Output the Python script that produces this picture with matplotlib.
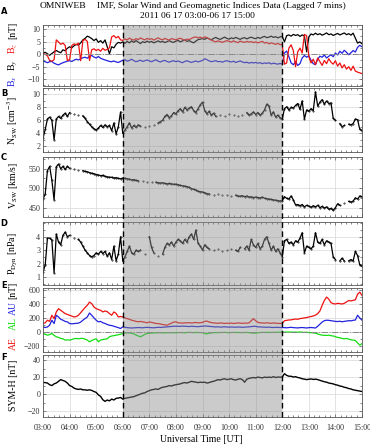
import matplotlib
matplotlib.use("Agg")
import matplotlib.pyplot as plt
import matplotlib.dates as mdates
import matplotlib.transforms as mtransforms
from matplotlib.patches import Rectangle
from matplotlib.lines import Line2D
from matplotlib.ticker import AutoMinorLocator
import numpy as np
import pandas as pd

nan = np.nan
time = pd.date_range("2011-06-17 03:00", "2011-06-17 15:00", freq="5min")

# IMF components [nT]
bx = [-2.8, -3.0, -3.4, -3.0, -2.9, -3.6, -4.0, -4.3, -3.8, -3.4, -3.1, -2.8,
      -2.6, -2.9, -2.4, -2.0, -2.3, -1.8, -1.4, -1.2, -1.6, -0.8, -0.5, -1.1,
      -1.5, -0.9, -1.6, -2.0, -2.3, -2.6, -2.9, -3.0, -2.7, -3.1, -3.3, -2.9,
      -2.4, -2.2, -2.8, -2.5, -2.0, -2.6, -3.0, -2.7, -2.4, -2.9, -2.6, -2.3,
      -2.7, -3.0, -2.6, -2.2, -2.8, -3.1, -2.7, -2.5, -2.9, -3.2, -2.8, -2.6,
      -3.0, -2.7, -3.1, -3.4, -2.9, -2.6, -3.0, -3.3, -3.0, -2.7, -3.1, -2.8,
      -2.5, -1.8, -2.2, -2.7, -3.0, -2.8, -2.6, -3.0, -2.9, -3.2, -2.8, -2.6,
      -2.9, -3.1, -2.8, -3.3, -3.0, -2.7, -3.1, -3.4, -3.2, -3.6, -3.3, -3.5,
      -3.3, -3.6, -3.4, -3.8, -3.5, -3.7, -3.4, -3.9, -3.6, -3.8, -4.0, -3.7,
      -4.0, 0.5, 1.3, -1.0, -3.5, -4.2, -3.0, -4.5, -3.8, -1.5, -0.5, -1.2,
      -0.6, -2.5, -3.8, -4.2, -2.0, -0.8, -1.2, -0.3, -1.5, -0.8, -0.2, -1.0,
      0.5, -0.3, 1.2, 0.4, 1.6, 0.8, -0.2, 0.6, 1.5, 0.9, 2.8, 3.6,
      3.0]
by = [0.5, 0.8, 0.2, -0.4, 0.3, 1.0, 1.5, 1.0, 0.6, 1.8, 1.4, 2.4,
      3.0, 2.6, 3.4, 4.0, 3.7, 4.6, 5.8, 6.4, 7.3, 6.9, 6.3, 5.5,
      6.2, 4.8, 5.5, 4.5, 5.8, 3.0, 0.2, 3.0, 2.6, 4.0, 4.8, 4.5,
      5.0, 4.4, 5.2, 4.6, 5.4, 4.8, 5.5, 4.9, 4.3, 5.1, 4.7, 5.3,
      4.8, 5.2, 4.6, 5.0, 5.4, 4.9, 5.2, 4.7, 5.1, 5.5, 5.0, 4.8,
      5.3, 5.6, 5.0, 5.4, 5.8, 5.2, 5.5, 5.0, 4.6, 5.3, 5.9, 6.1,
      6.3, 6.0, 6.6, 6.2, 5.8, 6.4, 6.8, 6.3, 6.0, 6.5, 6.9, 6.4,
      6.1, 6.6, 6.3, 6.8, 6.4, 6.0, 6.5, 6.7, 6.2, 6.6, 6.9, 6.5,
      6.3, 6.8, 6.4, 6.9, 7.2, 6.7, 6.9, 7.3, 6.8, 7.1, 6.6, 7.0,
      7.2, 5.0, 7.5, 7.8, 7.3, 8.0, 7.6, 7.9, 7.2, 7.8, 7.4, 1.0,
      7.0, 8.2, 7.8, 8.5, 7.9, 8.3, 7.7, 8.1, 8.6, 7.9, 8.2, 7.6,
      8.0, 8.4, 7.8, 8.2, 8.6, 7.9, 8.3, 7.7, 8.5, 6.5, 4.5, 5.0,
      4.2]
bz = [0.3, 0.0, -0.6, -2.5, -2.8, -2.2, 5.8, 5.0, 4.0, 4.5, 3.6, -2.5,
      -2.2, 3.5, 4.2, 3.8, 4.5, -2.6, 5.5, 6.0, 5.2, -2.5, 1.8, 2.2,
      1.5, 2.0, 1.2, 2.4, 1.6, 2.0, 2.6, 7.0, 7.5, 6.6, 7.2, 5.8,
      5.6, 6.2, 5.8, 6.5, 6.0, 5.7, 6.3, 5.9, 6.6, 6.1, 5.8, 6.4,
      6.0, 6.3, 5.7, 6.2, 6.6, 6.1, 5.8, 6.4, 6.0, 5.7, 6.3, 6.1,
      5.8, 6.2, 6.5, 6.0, 5.6, 6.1, 5.9, 6.4, 6.8, 7.0, 6.6, 6.9,
      6.5, 7.0, 6.7, 6.2, 5.7, 5.3, 5.0, 5.4, 5.1, 4.8, 5.2, 5.5,
      5.2, 4.9, 5.4, 5.0, 4.7, 5.3, 5.0, 4.8, 5.2, 4.9, 5.1, 4.7,
      5.0, 4.6, 4.9, 5.2, 4.5, 4.8, 4.2, 4.6, 4.3, 4.0, 4.4, 3.9,
      4.0, -4.0, -3.5, 2.5, 3.8, 1.5, -5.0, 1.0, 2.5, 0.5, 8.0, 7.5,
      -1.0, -3.5, -2.0, -4.2, -1.5, -3.0, -4.5, -2.5, -3.8, -1.8, -3.2, -4.0,
      -2.6, -4.8, -3.5, -5.5, -4.2, -6.0, -5.0, -6.5, -4.8, -6.8, -7.2, -7.5,
      -7.8]

# solar wind
nsw = [3.2, 4.6, 6.2, 6.5, 6.0, 3.0, 6.2, 6.6, 6.3, 6.8, 7.1, 6.6,
       7.2, nan, 7.0, nan, 6.9, nan, 6.7, 6.3, 5.8, 5.4, 5.0, 4.7,
       4.5, 4.8, 5.2, 4.9, 5.3, 5.0, 5.2, 4.4, 5.6, 3.9, 5.0, 7.3,
       4.0, 4.5, 5.0, 5.6, 4.8, 5.2, 4.9, 5.3, 5.1, nan, 5.0, nan,
       5.1, nan, 5.3, nan, 5.6, 5.8, 6.0, 6.6, 6.9, 6.4, 6.7, 7.2,
       7.0, 7.5, 7.8, 7.3, 8.0, 7.6, 7.9, 8.1, 7.5, 7.2, 7.8, 8.4,
       8.8, 7.5, 7.0, 7.4, 6.8, 7.1, 6.6, nan, 6.9, nan, 6.7, nan,
       7.0, nan, 6.8, nan, 6.6, nan, 6.9, nan, 7.2, 6.8, 7.0, 7.3,
       6.9, 7.2, 6.8, 7.1, 7.6, 8.5, 8.2, 6.8, 7.3, 6.5, 6.8, 6.4,
       6.2, 7.8, 8.1, 7.6, 8.0, 7.9, 8.3, 8.6, 7.7, 9.0, 6.2, 7.6,
       7.4, 7.8, 7.5, 10.4, 8.2, 8.8, 9.2, 8.5, 9.0, 8.6, 8.7, 6.3,
       6.0, nan, 5.5, 5.0, 5.2, nan, 5.4, 5.3, 5.5, 6.2, 6.1, 4.6,
       4.4]
vsw = [472, 485, 545, 556, 520, 470, 555, 562, 550, 556, 548, 556,
       551, nan, 549, nan, 547, nan, 545, 543, 542, 540, 538, 537,
       535, 534, 532, 533, 530, 529, 528, 528, 526, 527, 525, 524,
       526, 525, 524, 523, 521, 522, 520, 519, nan, 518, nan, 517,
       nan, 516, nan, 515, 514, 513, 514, 512, 511, 512, 511, 510,
       510, 509, 507, 506, 505, 504, 502, 499, 497, 495, 492, 491,
       490, 488, 486, 485, nan, 483, nan, 484, nan, 483, nan, 482,
       nan, 481, nan, 482, 480, 479, 481, 478, 480, 477, 478, 476,
       477, 476, 475, 477, 474, 473, 472, 471, 470, 469, 468, 467,
       468, 478, 474, 472, 480, 470, 457, 458, 455, 458, 452, 456,
       454, 451, 455, 452, 456, 450, 453, 449, 452, 446, 448, 443,
       450, 460, 456, nan, 462, nan, 466, 464, 467, 475, 472, 480,
       478]
pdyn = [1.35, 1.9, 3.9, 3.9, 3.75, 1.3, 4.2, 3.6, 3.4, 4.1, 4.35, 4.0,
        4.1, nan, 3.9, nan, 3.8, 3.6, 3.3, 3.0, 2.8, 2.6, 2.5, 2.6,
        2.8, 2.7, 2.9, 2.75, 2.9, 2.55, 2.8, 2.3, 3.3, 2.2, 2.7, 4.0,
        2.2, 2.5, 2.9, 3.3, 2.8, 2.7, 3.0, 2.9, 3.0, nan, 2.7, nan,
        4.0, 3.2, 2.8, nan, 2.6, nan, 2.7, 3.2, 3.5, 3.4, 3.6, 3.3,
        3.6, 3.8, 3.7, 3.5, 3.8, 3.6, 4.0, 4.2, 3.8, 4.5, 3.5, 3.3,
        3.0, 3.4, 3.2, 3.1, nan, 3.0, nan, 3.1, nan, 2.9, nan, 3.0,
        nan, 3.1, nan, 3.0, 2.9, 3.2, nan, 3.1, 3.3, 3.0, 3.8, 3.4,
        3.2, 3.5, 3.1, 3.3, 3.8, 4.0, 3.5, 3.0, 3.3, 2.9, 3.1, 2.8,
        2.5, 3.7, 3.8, 3.5, 3.6, 3.4, 3.7, 3.6, 3.9, 4.3, 2.8, 3.3,
        3.2, 3.1, 3.3, 4.3, 3.6, 3.5, 3.8, 3.4, 3.7, 3.6, 3.5, 2.5,
        2.3, nan, 2.2, 2.4, 2.2, nan, 2.2, 2.3, 2.2, 2.9, 2.6, 1.9,
        1.8]

# auroral electrojet indices [nT]
ae = [119, 130, 167, 150, 238, 190, 286, 333, 310, 285, 262, 250,
      238, 225, 214, 220, 238, 275, 310, 350, 381, 428, 405, 357,
      333, 320, 310, 286, 300, 290, 262, 238, 286, 265, 214, 220,
      214, 200, 190, 180, 167, 160, 150, 145, 150, 143, 135, 130,
      143, 135, 128, 120, 119, 112, 105, 100, 95, 110, 125, 140,
      143, 130, 128, 125, 130, 128, 132, 126, 130, 135, 128, 132,
      135, 150, 155, 140, 133, 128, 125, 122, 128, 125, 120, 124,
      122, 126, 120, 124, 128, 125, 122, 126, 124, 128, 160, 190,
      160, 135, 130, 128, 125, 130, 126, 122, 128, 125, 120, 122,
      119, 160, 165, 170, 172, 178, 185, 180, 190, 195, 200, 205,
      214, 220, 228, 240, 262, 300, 380, 450, 500, 470, 420, 405,
      400, 410, 405, 400, 410, 430, 450, 445, 452, 460, 540, 571,
      524]
au = [71, 62, 70, 95, 167, 119, 238, 214, 180, 167, 150, 143,
      119, 115, 118, 120, 125, 140, 167, 190, 214, 271, 238, 200,
      167, 143, 150, 130, 120, 105, 95, 90, 80, 71, 60, 48,
      71, 65, 60, 57, 55, 57, 60, 62, 60, 58, 62, 64,
      62, 60, 58, 62, 65, 63, 66, 70, 72, 75, 78, 80,
      81, 80, 78, 82, 80, 78, 76, 80, 78, 76, 74, 78,
      80, 85, 82, 78, 75, 72, 70, 72, 68, 70, 72, 69,
      67, 70, 68, 66, 70, 68, 65, 67, 70, 72, 75, 80,
      78, 72, 70, 68, 66, 65, 68, 64, 62, 65, 63, 62,
      62, 60, 58, 62, 65, 60, 58, 56, 60, 62, 58, 55,
      60, 62, 58, 55, 80, 110, 140, 160, 167, 165, 160, 155,
      150, 148, 152, 145, 150, 155, 160, 158, 165, 170, 238, 200,
      167]
al = [-24, -35, -48, -40, -24, -50, -71, -80, -95, -100, -119, -115,
      -119, -110, -100, -95, -100, -95, -95, -105, -119, -143, -125, -110,
      -100, -143, -119, -110, -105, -100, -71, -60, -55, -48, -40, -35,
      -24, -18, -14, -16, -20, -30, -45, -60, -71, -55, -35, -25,
      -20, -18, -16, -15, -14, -12, -15, -14, -13, -12, -14, -13,
      -14, -12, -10, -12, -14, -10, -8, -10, -12, -9, -10, -11,
      -12, -25, -30, -20, -15, -12, -10, -12, -9, -10, -8, -10,
      -12, -10, -8, -10, -9, -11, -10, -8, -9, -12, -15, -20,
      -18, -14, -10, -8, -9, -7, -10, -8, -6, -8, -7, -5,
      -3, -5, -2, -4, -3, -5, -4, -6, -3, -5, -8, -6,
      -10, -12, -15, -20, -30, -40, -48, -50, -52, -48, -55, -60,
      -70, -80, -85, -95, -100, -95, -105, -115, -119, -125, -160, -190,
      -170]

# ring current index [nT]
symh = [13.7, 13.5, 13, 11, 10, 12, 13, 15, 17, 16, 15, 13,
        10, 9, 7, 6, 5.5, 6, 5, 5, 4.5, 5, 4.3, 3,
        2, -1, -2.7, -6.7, -8.6, -7, -8, -5.9, -7, -5, -4.7, -4,
        -5.9, -5, -4.5, -4, -3.5, -3, -2, -1, 0, 1, 1.5, 3,
        4, 5, 5.5, 6, 5.5, 7, 8, 8.5, 9, 10, 9.5, 10.5,
        11, 11.5, 12, 13, 13.5, 13, 14, 15, 14.5, 14, 13.5, 14,
        13.7, 14, 13, 13.5, 14.5, 15, 16, 17, 16.5, 17.5, 18, 17,
        17.5, 18, 17, 16.5, 17.5, 18, 17, 14, 17.5, 18.5, 19, 19.5,
        19, 20, 19.5, 19, 20, 19.5, 20, 19.5, 20.5, 19.5, 20, 20,
        20, 24, 22, 21, 21, 20, 20.5, 19.5, 19, 18, 17.6, 17,
        17.5, 17.8, 17.2, 17.6, 17, 16.2, 15.5, 14.5, 14, 13, 12.5, 12,
        11, 10.5, 9.5, 9, 8, 7.5, 6.5, 6, 5, 4.5, 4, 3.5,
        3]

event_start = pd.Timestamp("2011-06-17 06:00")
event_end = pd.Timestamp("2011-06-17 12:00")

plt.rcParams["font.family"] = ["Liberation Serif", "DejaVu Serif"]
plt.rcParams["mathtext.fontset"] = "stix"

W, H = 370.0, 445.0
fig = plt.figure(figsize=(W / 100, H / 100), dpi=100)

panels = [(25, 86), (88, 152), (157, 217), (222, 285), (288, 352), (355, 417)]
axes = []
for top, bot in panels:
    ax = fig.add_axes([43 / W, 1 - bot / H, 319 / W, (bot - top) / H])
    ax.set_facecolor("white")
    axes.append(ax)
axA, axB, axC, axD, axE, axF = axes

blue, red, green = "#2222dd", "#ee1111", "#11dd11"

axA.plot(time, bx, color=blue, lw=0.9)
axA.plot(time, by, color="black", lw=0.9)
axA.plot(time, bz, color=red, lw=0.9)
axA.axhline(0, color="#888888", lw=0.7, ls="-.")
axA.set_ylim(-12.8, 11.8)
axA.set_yticks([-10, -5, 0, 5, 10])

axB.plot(time, nsw, color="black", lw=0.9, marker=".", ms=0.8)
axB.set_ylim(1.1, 11.0)
axB.set_yticks([2, 4, 6, 8, 10])

axC.plot(time, vsw, color="black", lw=0.9, marker=".", ms=0.8)
axC.set_ylim(426, 580)
axC.set_yticks([450, 500, 550])

axD.plot(time, pdyn, color="black", lw=0.9, marker=".", ms=0.8)
axD.set_ylim(0.4, 5.1)
axD.set_yticks([1, 2, 3, 4])

axE.plot(time, ae, color=red, lw=0.9)
axE.plot(time, au, color=blue, lw=0.9)
axE.plot(time, al, color=green, lw=0.9)
axE.axhline(0, color="#888888", lw=0.7, ls="-.")
axE.set_ylim(-290, 630)
axE.set_yticks([-200, 0, 200, 400, 600])

axF.plot(time, symh, color="black", lw=1.0)
axF.set_ylim(-27, 46)
axF.set_yticks([-20, 0, 20, 40])

for ax in axes:
    ax.set_xlim(time[0], time[-1])
    ax.xaxis.set_major_locator(mdates.HourLocator())
    ax.xaxis.set_minor_locator(mdates.MinuteLocator(byminute=[12, 24, 36, 48]))
    ax.xaxis.set_major_formatter(mdates.DateFormatter("%H:%M"))
    ax.yaxis.set_minor_locator(AutoMinorLocator(2))
    ax.grid(True, which="major", color="#d8d8d8", lw=0.5)
    ax.set_axisbelow(True)
    ax.tick_params(which="both", direction="in", top=True, right=True,
                   colors="#555555", labelcolor="#333333", labelsize=5.8, pad=2)
    ax.tick_params(which="major", length=2.5, width=0.5)
    ax.tick_params(which="minor", length=1.3, width=0.5)
    for sp in ax.spines.values():
        sp.set_color("#555555")
        sp.set_linewidth(0.6)
    if ax is not axF:
        ax.tick_params(labelbottom=False)
axF.tick_params(axis="x", pad=5)

# shaded interval and dashed markers across all panels
trans = mtransforms.blended_transform_factory(axF.transData, fig.transFigure)
x0 = mdates.date2num(event_start)
x1 = mdates.date2num(event_end)
y_top = 1 - panels[0][0] / H
y_bot = 1 - panels[-1][1] / H
fig.add_artist(Rectangle((x0, y_bot), x1 - x0, y_top - y_bot, transform=trans,
                         facecolor="#8c8c8c", alpha=0.45, edgecolor="none", zorder=10))
for xv in (x0, x1):
    fig.add_artist(Line2D([xv, xv], [y_bot, y_top], transform=trans, color="black",
                          lw=1.0, ls=(0, (4, 2.5)), zorder=11))

# labels
def ftext(x, y, s, **kw):
    fig.text(x / W, 1 - y / H, s, **kw)

lab = dict(rotation=90, ha="center", va="center", fontsize=7)
ftext(13, 81, r"B$_x$", color=blue, **lab)
ftext(13, 65, r"B$_y$", color="black", **lab)
ftext(13, 48, r"B$_z$", color=red, **lab)
ftext(13, 30, "[nT]", color="black", **lab)
ftext(13, 121, r"N$_{\rm SW}$ [cm$^{-3}$]", **lab)
ftext(13, 185, r"V$_{\rm SW}$ [km/s]", **lab)
ftext(13, 254, r"P$_{\rm Dyn}$ [nPa]", **lab)
ftext(13, 343, "AE", color=red, **lab)
ftext(13, 324, "AL", color=green, **lab)
ftext(13, 308, "AU", color=blue, **lab)
ftext(13, 290, "[nT]", color="black", **lab)
ftext(13, 385, "SYM-H [nT]", **lab)

for letter, yl in zip("ABCDEF", [11, 94, 158, 224, 285, 357]):
    ftext(4, yl, letter, fontsize=6, fontweight="bold", family="DejaVu Sans",
          ha="center", va="center")

ftext(40, 5.5, "OMNIWEB", fontsize=6.8, ha="left", va="center")
ftext(97, 5.5, "IMF, Solar Wind and Geomagnetic Indices Data (Lagged 7 mins)",
      fontsize=6.8, ha="left", va="center")
ftext(197, 15.5, "2011 06 17 03:00-06 17 15:00", fontsize=6.8, ha="center", va="center")
ftext(201, 439, "Universal Time [UT]", fontsize=7, ha="center", va="center")

fig.savefig("out.png", dpi=100)
